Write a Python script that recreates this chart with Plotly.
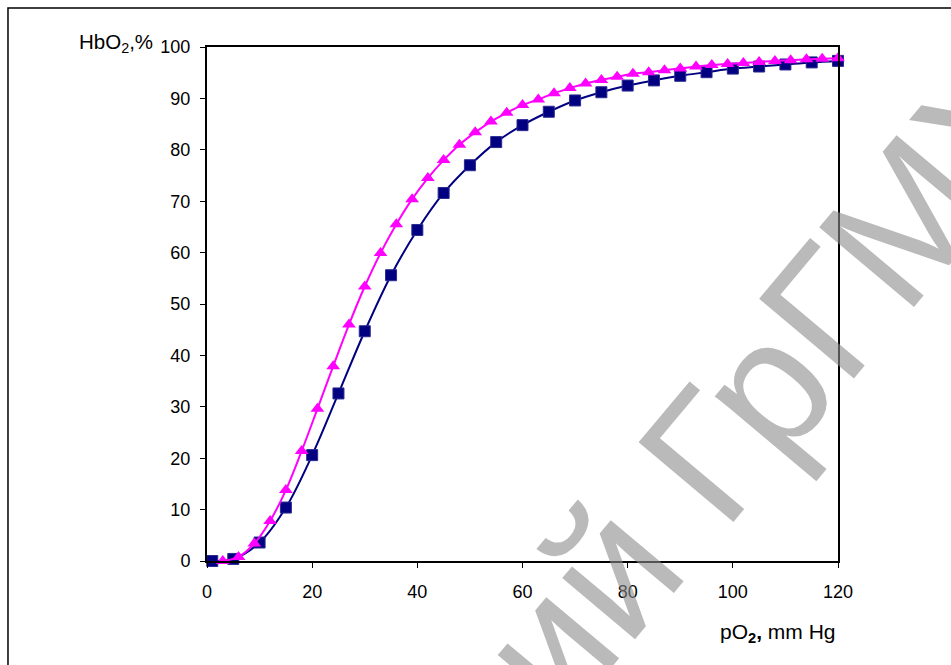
import plotly.graph_objects as go

# Data
po2_squares = [1, 5, 10, 15, 20, 25, 30, 35, 40, 45, 50, 55, 60, 65, 70, 75, 80, 85, 90, 95, 100, 105, 110, 115, 120]
hbo2_squares = [0, 0.4, 3.6, 10.4, 20.6, 32.6, 44.7, 55.6, 64.4, 71.6, 77.0, 81.5, 84.8, 87.4, 89.6, 91.2,
                92.5, 93.5, 94.4, 95.1, 95.8, 96.2, 96.6, 97.0, 97.3]

po2_triangles = [3, 6, 9, 12, 15, 18, 21, 24, 27, 30, 33, 36, 39, 42, 45, 48, 51, 54, 57, 60,
                 63, 66, 69, 72, 75, 78, 81, 84, 87, 90, 93, 96, 99, 102, 105, 108, 111, 114, 117, 120]
hbo2_triangles = [0, 0.8, 3.4, 7.8, 13.8, 21.4, 29.6, 37.9, 46.0, 53.4, 59.9, 65.5, 70.4, 74.5, 78.0,
                  81.0, 83.4, 85.5, 87.2, 88.7, 89.8, 91.0, 92.0, 92.9, 93.6, 94.2, 94.8, 95.1, 95.5,
                  95.8, 96.2, 96.5, 96.7, 96.9, 97.1, 97.3, 97.4, 97.6, 97.7, 97.8]

x_ticks = [0, 20, 40, 60, 80, 100, 120]
y_ticks = [0, 10, 20, 30, 40, 50, 60, 70, 80, 90, 100]

watermark_text = "ий ГрГМУ"

FONT = "Liberation Sans, Arial, sans-serif"

fig = go.Figure()

fig.add_trace(go.Scatter(
    x=po2_squares, y=hbo2_squares, mode="lines+markers",
    line=dict(color="#000080", width=2, shape="spline"),
    marker=dict(symbol="square", size=11, color="#000080", line=dict(color="#2a2a90", width=1)),
    cliponaxis=False, showlegend=False,
))
fig.add_trace(go.Scatter(
    x=po2_triangles, y=hbo2_triangles, mode="lines+markers",
    line=dict(color="#FF00FF", width=2, shape="spline"),
    marker=dict(symbol="triangle-up", size=12, color="#FF00FF", line=dict(color="#FF00FF", width=0)),
    cliponaxis=False, showlegend=False,
))

fig.update_layout(
    width=951, height=665,
    margin=dict(l=207, r=113, t=47, b=104),
    paper_bgcolor="white", plot_bgcolor="white",
    font=dict(family=FONT, size=18, color="black"),
    xaxis=dict(range=[0, 120], tickvals=x_ticks, ticks="outside", ticklen=5, tickwidth=1,
               tickcolor="black", showline=True, linecolor="black", linewidth=2, mirror=True,
               showgrid=False, zeroline=False, tickfont=dict(family=FONT, size=18),
               ticklabelstandoff=8),
    yaxis=dict(range=[0, 100], tickvals=y_ticks, ticks="outside", ticklen=5, tickwidth=1,
               tickcolor="black", showline=True, linecolor="black", linewidth=2, mirror=True,
               showgrid=False, zeroline=False, tickfont=dict(family=FONT, size=18),
               ticklabelstandoff=6),
    shapes=[dict(type="rect", xref="paper", yref="paper",
                 x0=-0.3154, x1=1.4, y0=-0.4, y1=1.0759,
                 line=dict(color="black", width=1.5), layer="below")],
    annotations=[
        dict(text="HbO<sub>2</sub>,%", xref="paper", yref="paper", x=-0.0824, y=1.008,
             xanchor="right", yanchor="middle", showarrow=False,
             font=dict(family=FONT, size=20.5, color="black")),
        dict(text="pO<sub><b>2</b></sub><b>,</b> mm Hg", xref="paper", yref="paper", x=1.0, y=-0.14,
             xanchor="right", yanchor="middle", showarrow=False,
             font=dict(family=FONT, size=21, color="black")),
        dict(text=watermark_text, xref="paper", yref="paper", x=0.8945, y=0.3529,
             xanchor="center", yanchor="middle", showarrow=False, textangle=-50,
             font=dict(family=FONT, size=180, color="rgba(140,140,140,0.6)")),
    ],
)

fig.write_html("out.html", config={"displayModeBar": False},
               post_script="document.body.style.margin='0';document.body.style.overflow='hidden';")
